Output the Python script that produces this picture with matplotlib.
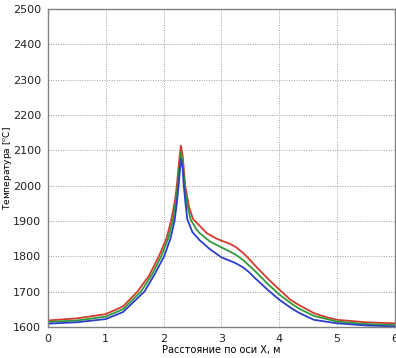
import matplotlib
matplotlib.use("Agg")
import matplotlib.pyplot as plt

# данные
x_red = [0, 0.5, 1.0, 1.3, 1.55, 1.75, 1.92, 2.05, 2.13, 2.2, 2.23, 2.27, 2.30, 2.33, 2.375,
         2.44, 2.51, 2.62, 2.75, 2.9, 3.0, 3.15, 3.25, 3.37, 3.47, 3.57, 3.8, 4.0, 4.2, 4.34,
         4.6, 4.8, 5.0, 5.5, 6.0]
t_red = [1618, 1624, 1636, 1658, 1700, 1745, 1800, 1850, 1900, 1960, 2000, 2070, 2113, 2085, 2000,
         1940, 1905, 1887, 1865, 1851, 1844, 1835, 1826, 1810, 1794, 1776, 1737, 1706, 1676, 1662,
         1639, 1628, 1620, 1613, 1610]

x_green = [0, 0.5, 1.0, 1.3, 1.61, 1.8, 1.96, 2.08, 2.16, 2.21, 2.245, 2.30, 2.33, 2.36, 2.41,
           2.47, 2.56, 2.62, 2.8, 3.0, 3.15, 3.25, 3.37, 3.47, 3.57, 3.8, 4.0, 4.2, 4.34, 4.6,
           5.0, 5.5, 6.0]
t_green = [1614, 1618, 1629, 1650, 1700, 1748, 1800, 1850, 1900, 1950, 2000, 2095, 2068, 2000, 1945,
           1903, 1878, 1866, 1842, 1825, 1813, 1804, 1790, 1775, 1760, 1722, 1692, 1667, 1652, 1631,
           1615, 1608, 1605]

x_blue = [0, 0.5, 1.0, 1.3, 1.67, 1.85, 2.01, 2.12, 2.19, 2.23, 2.26, 2.30, 2.33, 2.35, 2.38,
          2.41, 2.5, 2.62, 2.8, 3.0, 3.15, 3.25, 3.37, 3.47, 3.57, 3.8, 4.0, 4.2, 4.34, 4.6,
          5.0, 5.5, 6.0]
t_blue = [1609, 1613, 1622, 1642, 1700, 1750, 1800, 1850, 1900, 1950, 2000, 2075, 2050, 2000, 1950,
          1905, 1868, 1846, 1820, 1797, 1787, 1780, 1769, 1756, 1740, 1705, 1677, 1654, 1640, 1620,
          1610, 1604, 1601]

xticks = [0, 1, 2, 3, 4, 5, 6]
yticks = [1600, 1700, 1800, 1900, 2000, 2100, 2200, 2300, 2400, 2500]

fig = plt.figure(figsize=(3.96, 3.58), dpi=100)
ax = fig.add_axes([0.121, 0.087, 0.876, 0.888])

ax.plot(x_red, t_red, color="#d23b2c", lw=1.3)
ax.plot(x_green, t_green, color="#2f9a3c", lw=1.3)
ax.plot(x_blue, t_blue, color="#2b3ec6", lw=1.3)

ax.set_xlim(0, 6)
ax.set_ylim(1600, 2500)
ax.set_xticks(xticks)
ax.set_yticks(yticks)
ax.grid(True, color="#a0a0a0", linestyle=(0, (1, 1.5)), linewidth=0.7)
ax.tick_params(length=0, labelsize=8, pad=5, colors="#222222")
for s in ax.spines.values():
    s.set_color("#808080")
    s.set_linewidth(1.0)

ax.set_xlabel("Расстояние по оси X, м", fontsize=7, labelpad=1)
ax.set_ylabel("Температура [$^o$C]", fontsize=6.5)
ax.yaxis.set_label_coords(-0.098, 0.5)

fig.savefig("out.png", dpi=100)
